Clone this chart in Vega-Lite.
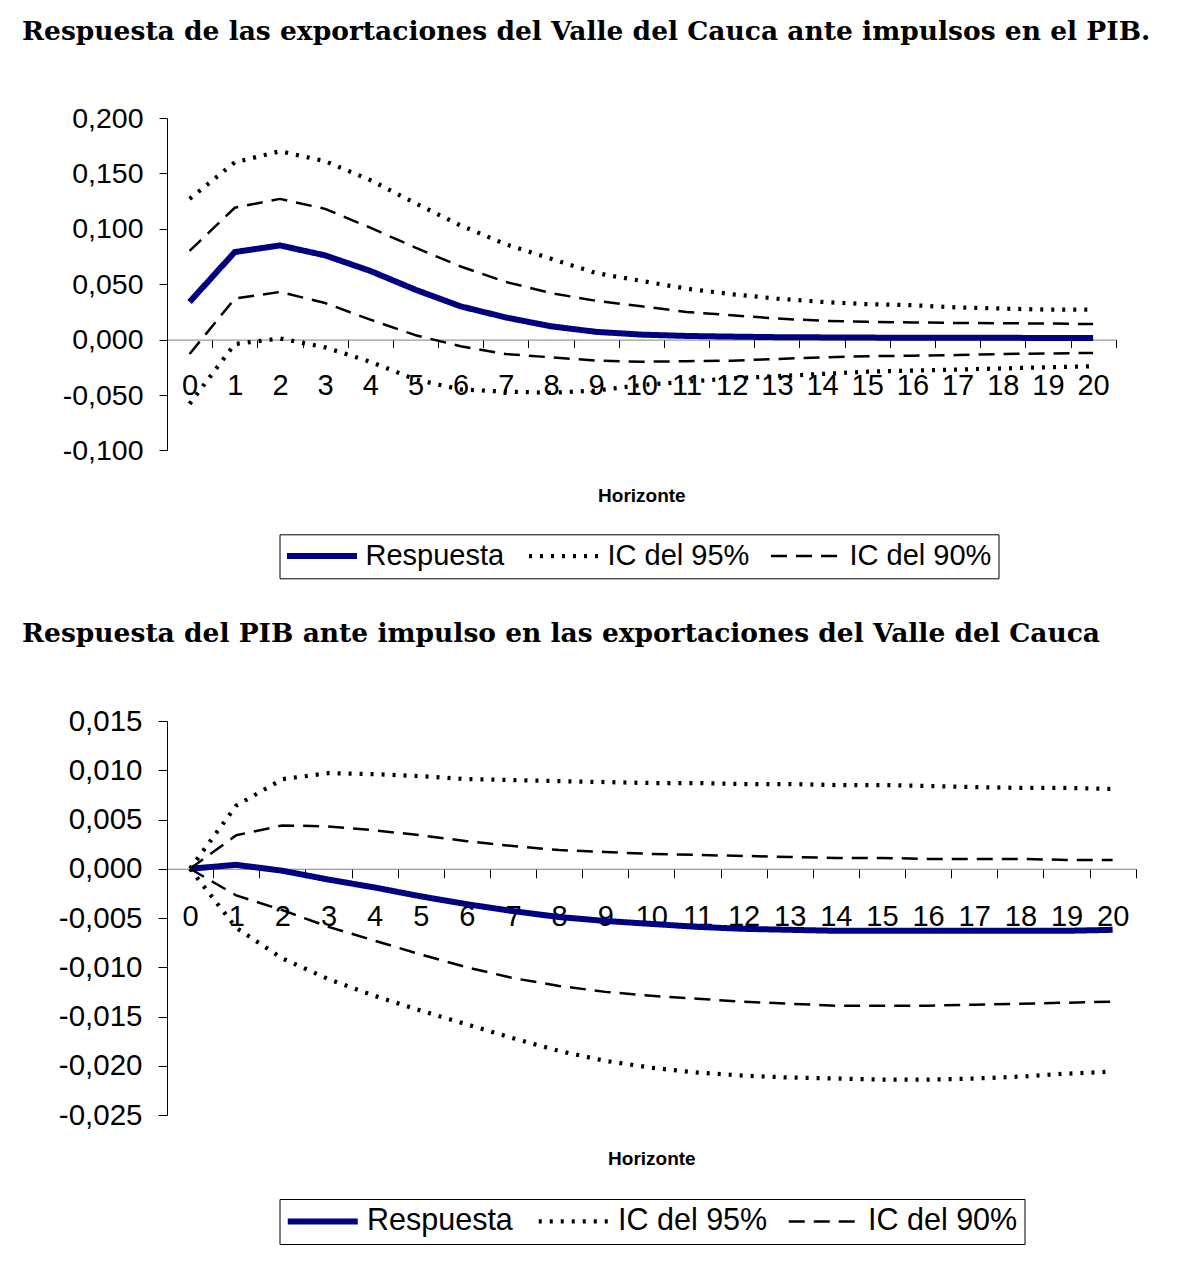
{
  "$schema": "https://vega.github.io/schema/vega-lite/v6.json",
  "background": "white",
  "padding": {"left": 22, "top": 18, "right": 5, "bottom": 5},
  "spacing": 41,
  "config": {
    "view": {"stroke": null},
    "font": "Liberation Sans",
    "title": {"font": "DejaVu Serif", "fontWeight": "bold", "fontSize": 26.5, "anchor": "start", "color": "black", "frame": "group"},
    "axis": {"grid": false, "labelFont": "Liberation Sans", "labelColor": "black", "titleFont": "Liberation Sans", "titleColor": "black", "domainColor": "#000000", "tickColor": "#000000", "domainWidth": 1, "tickWidth": 1},
    "legend": {"orient": "none", "direction": "horizontal", "strokeColor": "black", "padding": 7, "fillColor": "white", "symbolType": "M-5,0H5", "symbolSize": 196, "symbolOffset": 21, "labelFont": "Liberation Sans", "labelColor": "black", "labelOffset": 29, "columnPadding": 16, "labelLimit": 400}
  },
  "resolve": {"scale": {"color": "independent", "strokeDash": "independent", "strokeWidth": "independent"}, "legend": {"color": "independent", "strokeDash": "independent", "strokeWidth": "independent"}},
  "datasets": {
    "a": [
      {"h":0,"s":"Respuesta","b":"c","v":0.034},{"h":1,"s":"Respuesta","b":"c","v":0.079},{"h":2,"s":"Respuesta","b":"c","v":0.085},{"h":3,"s":"Respuesta","b":"c","v":0.076},{"h":4,"s":"Respuesta","b":"c","v":0.062},{"h":5,"s":"Respuesta","b":"c","v":0.045},{"h":6,"s":"Respuesta","b":"c","v":0.030},{"h":7,"s":"Respuesta","b":"c","v":0.020},{"h":8,"s":"Respuesta","b":"c","v":0.012},{"h":9,"s":"Respuesta","b":"c","v":0.007},{"h":10,"s":"Respuesta","b":"c","v":0.0045},{"h":11,"s":"Respuesta","b":"c","v":0.0033},{"h":12,"s":"Respuesta","b":"c","v":0.0027},{"h":13,"s":"Respuesta","b":"c","v":0.0022},{"h":14,"s":"Respuesta","b":"c","v":0.002},{"h":15,"s":"Respuesta","b":"c","v":0.0018},{"h":16,"s":"Respuesta","b":"c","v":0.0017},{"h":17,"s":"Respuesta","b":"c","v":0.0016},{"h":18,"s":"Respuesta","b":"c","v":0.0016},{"h":19,"s":"Respuesta","b":"c","v":0.0015},{"h":20,"s":"Respuesta","b":"c","v":0.0015},
      {"h":0,"s":"IC del 95%","b":"sup","v":0.127},{"h":1,"s":"IC del 95%","b":"sup","v":0.160},{"h":2,"s":"IC del 95%","b":"sup","v":0.170},{"h":3,"s":"IC del 95%","b":"sup","v":0.161},{"h":4,"s":"IC del 95%","b":"sup","v":0.144},{"h":5,"s":"IC del 95%","b":"sup","v":0.123},{"h":6,"s":"IC del 95%","b":"sup","v":0.103},{"h":7,"s":"IC del 95%","b":"sup","v":0.086},{"h":8,"s":"IC del 95%","b":"sup","v":0.073},{"h":9,"s":"IC del 95%","b":"sup","v":0.060},{"h":10,"s":"IC del 95%","b":"sup","v":0.053},{"h":11,"s":"IC del 95%","b":"sup","v":0.046},{"h":12,"s":"IC del 95%","b":"sup","v":0.041},{"h":13,"s":"IC del 95%","b":"sup","v":0.037},{"h":14,"s":"IC del 95%","b":"sup","v":0.034},{"h":15,"s":"IC del 95%","b":"sup","v":0.032},{"h":16,"s":"IC del 95%","b":"sup","v":0.031},{"h":17,"s":"IC del 95%","b":"sup","v":0.029},{"h":18,"s":"IC del 95%","b":"sup","v":0.028},{"h":19,"s":"IC del 95%","b":"sup","v":0.027},{"h":20,"s":"IC del 95%","b":"sup","v":0.027},
      {"h":0,"s":"IC del 95%","b":"inf","v":-0.058},{"h":1,"s":"IC del 95%","b":"inf","v":-0.004},{"h":2,"s":"IC del 95%","b":"inf","v":0.001},{"h":3,"s":"IC del 95%","b":"inf","v":-0.007},{"h":4,"s":"IC del 95%","b":"inf","v":-0.020},{"h":5,"s":"IC del 95%","b":"inf","v":-0.036},{"h":6,"s":"IC del 95%","b":"inf","v":-0.045},{"h":7,"s":"IC del 95%","b":"inf","v":-0.047},{"h":8,"s":"IC del 95%","b":"inf","v":-0.048},{"h":9,"s":"IC del 95%","b":"inf","v":-0.046},{"h":10,"s":"IC del 95%","b":"inf","v":-0.041},{"h":11,"s":"IC del 95%","b":"inf","v":-0.038},{"h":12,"s":"IC del 95%","b":"inf","v":-0.035},{"h":13,"s":"IC del 95%","b":"inf","v":-0.033},{"h":14,"s":"IC del 95%","b":"inf","v":-0.031},{"h":15,"s":"IC del 95%","b":"inf","v":-0.029},{"h":16,"s":"IC del 95%","b":"inf","v":-0.028},{"h":17,"s":"IC del 95%","b":"inf","v":-0.027},{"h":18,"s":"IC del 95%","b":"inf","v":-0.026},{"h":19,"s":"IC del 95%","b":"inf","v":-0.025},{"h":20,"s":"IC del 95%","b":"inf","v":-0.024},
      {"h":0,"s":"IC del 90%","b":"sup","v":0.080},{"h":1,"s":"IC del 90%","b":"sup","v":0.119},{"h":2,"s":"IC del 90%","b":"sup","v":0.127},{"h":3,"s":"IC del 90%","b":"sup","v":0.118},{"h":4,"s":"IC del 90%","b":"sup","v":0.101},{"h":5,"s":"IC del 90%","b":"sup","v":0.083},{"h":6,"s":"IC del 90%","b":"sup","v":0.066},{"h":7,"s":"IC del 90%","b":"sup","v":0.052},{"h":8,"s":"IC del 90%","b":"sup","v":0.042},{"h":9,"s":"IC del 90%","b":"sup","v":0.035},{"h":10,"s":"IC del 90%","b":"sup","v":0.030},{"h":11,"s":"IC del 90%","b":"sup","v":0.025},{"h":12,"s":"IC del 90%","b":"sup","v":0.022},{"h":13,"s":"IC del 90%","b":"sup","v":0.019},{"h":14,"s":"IC del 90%","b":"sup","v":0.017},{"h":15,"s":"IC del 90%","b":"sup","v":0.016},{"h":16,"s":"IC del 90%","b":"sup","v":0.0155},{"h":17,"s":"IC del 90%","b":"sup","v":0.015},{"h":18,"s":"IC del 90%","b":"sup","v":0.0148},{"h":19,"s":"IC del 90%","b":"sup","v":0.0145},{"h":20,"s":"IC del 90%","b":"sup","v":0.014},
      {"h":0,"s":"IC del 90%","b":"inf","v":-0.013},{"h":1,"s":"IC del 90%","b":"inf","v":0.037},{"h":2,"s":"IC del 90%","b":"inf","v":0.043},{"h":3,"s":"IC del 90%","b":"inf","v":0.033},{"h":4,"s":"IC del 90%","b":"inf","v":0.018},{"h":5,"s":"IC del 90%","b":"inf","v":0.004},{"h":6,"s":"IC del 90%","b":"inf","v":-0.006},{"h":7,"s":"IC del 90%","b":"inf","v":-0.013},{"h":8,"s":"IC del 90%","b":"inf","v":-0.016},{"h":9,"s":"IC del 90%","b":"inf","v":-0.019},{"h":10,"s":"IC del 90%","b":"inf","v":-0.020},{"h":11,"s":"IC del 90%","b":"inf","v":-0.0195},{"h":12,"s":"IC del 90%","b":"inf","v":-0.019},{"h":13,"s":"IC del 90%","b":"inf","v":-0.0175},{"h":14,"s":"IC del 90%","b":"inf","v":-0.016},{"h":15,"s":"IC del 90%","b":"inf","v":-0.015},{"h":16,"s":"IC del 90%","b":"inf","v":-0.0145},{"h":17,"s":"IC del 90%","b":"inf","v":-0.014},{"h":18,"s":"IC del 90%","b":"inf","v":-0.013},{"h":19,"s":"IC del 90%","b":"inf","v":-0.0125},{"h":20,"s":"IC del 90%","b":"inf","v":-0.012}
    ],
    "b": [
      {"h":0,"s":"Respuesta","b":"c","v":0},{"h":1,"s":"Respuesta","b":"c","v":0.0004},{"h":2,"s":"Respuesta","b":"c","v":-0.0002},{"h":3,"s":"Respuesta","b":"c","v":-0.0011},{"h":4,"s":"Respuesta","b":"c","v":-0.0019},{"h":5,"s":"Respuesta","b":"c","v":-0.0028},{"h":6,"s":"Respuesta","b":"c","v":-0.0036},{"h":7,"s":"Respuesta","b":"c","v":-0.0043},{"h":8,"s":"Respuesta","b":"c","v":-0.0049},{"h":9,"s":"Respuesta","b":"c","v":-0.0053},{"h":10,"s":"Respuesta","b":"c","v":-0.0056},{"h":11,"s":"Respuesta","b":"c","v":-0.0059},{"h":12,"s":"Respuesta","b":"c","v":-0.0061},{"h":13,"s":"Respuesta","b":"c","v":-0.0062},{"h":14,"s":"Respuesta","b":"c","v":-0.0063},{"h":15,"s":"Respuesta","b":"c","v":-0.0063},{"h":16,"s":"Respuesta","b":"c","v":-0.0063},{"h":17,"s":"Respuesta","b":"c","v":-0.0063},{"h":18,"s":"Respuesta","b":"c","v":-0.0063},{"h":19,"s":"Respuesta","b":"c","v":-0.0063},{"h":20,"s":"Respuesta","b":"c","v":-0.0062},
      {"h":0,"s":"IC del 95%","b":"sup","v":0},{"h":1,"s":"IC del 95%","b":"sup","v":0.0064},{"h":2,"s":"IC del 95%","b":"sup","v":0.0091},{"h":3,"s":"IC del 95%","b":"sup","v":0.0097},{"h":4,"s":"IC del 95%","b":"sup","v":0.0096},{"h":5,"s":"IC del 95%","b":"sup","v":0.0094},{"h":6,"s":"IC del 95%","b":"sup","v":0.0091},{"h":7,"s":"IC del 95%","b":"sup","v":0.0090},{"h":8,"s":"IC del 95%","b":"sup","v":0.0089},{"h":9,"s":"IC del 95%","b":"sup","v":0.0088},{"h":10,"s":"IC del 95%","b":"sup","v":0.0087},{"h":11,"s":"IC del 95%","b":"sup","v":0.0087},{"h":12,"s":"IC del 95%","b":"sup","v":0.0086},{"h":13,"s":"IC del 95%","b":"sup","v":0.0086},{"h":14,"s":"IC del 95%","b":"sup","v":0.0085},{"h":15,"s":"IC del 95%","b":"sup","v":0.0085},{"h":16,"s":"IC del 95%","b":"sup","v":0.0084},{"h":17,"s":"IC del 95%","b":"sup","v":0.0083},{"h":18,"s":"IC del 95%","b":"sup","v":0.0082},{"h":19,"s":"IC del 95%","b":"sup","v":0.0082},{"h":20,"s":"IC del 95%","b":"sup","v":0.0081},
      {"h":0,"s":"IC del 95%","b":"inf","v":0},{"h":1,"s":"IC del 95%","b":"inf","v":-0.0060},{"h":2,"s":"IC del 95%","b":"inf","v":-0.0091},{"h":3,"s":"IC del 95%","b":"inf","v":-0.0112},{"h":4,"s":"IC del 95%","b":"inf","v":-0.0129},{"h":5,"s":"IC del 95%","b":"inf","v":-0.0144},{"h":6,"s":"IC del 95%","b":"inf","v":-0.0158},{"h":7,"s":"IC del 95%","b":"inf","v":-0.0172},{"h":8,"s":"IC del 95%","b":"inf","v":-0.0185},{"h":9,"s":"IC del 95%","b":"inf","v":-0.0195},{"h":10,"s":"IC del 95%","b":"inf","v":-0.0202},{"h":11,"s":"IC del 95%","b":"inf","v":-0.0207},{"h":12,"s":"IC del 95%","b":"inf","v":-0.0210},{"h":13,"s":"IC del 95%","b":"inf","v":-0.0212},{"h":14,"s":"IC del 95%","b":"inf","v":-0.0213},{"h":15,"s":"IC del 95%","b":"inf","v":-0.0214},{"h":16,"s":"IC del 95%","b":"inf","v":-0.0214},{"h":17,"s":"IC del 95%","b":"inf","v":-0.0213},{"h":18,"s":"IC del 95%","b":"inf","v":-0.0211},{"h":19,"s":"IC del 95%","b":"inf","v":-0.0208},{"h":20,"s":"IC del 95%","b":"inf","v":-0.0206},
      {"h":0,"s":"IC del 90%","b":"sup","v":0},{"h":1,"s":"IC del 90%","b":"sup","v":0.0034},{"h":2,"s":"IC del 90%","b":"sup","v":0.0044},{"h":3,"s":"IC del 90%","b":"sup","v":0.0043},{"h":4,"s":"IC del 90%","b":"sup","v":0.0039},{"h":5,"s":"IC del 90%","b":"sup","v":0.0034},{"h":6,"s":"IC del 90%","b":"sup","v":0.0028},{"h":7,"s":"IC del 90%","b":"sup","v":0.0023},{"h":8,"s":"IC del 90%","b":"sup","v":0.0019},{"h":9,"s":"IC del 90%","b":"sup","v":0.0017},{"h":10,"s":"IC del 90%","b":"sup","v":0.0015},{"h":11,"s":"IC del 90%","b":"sup","v":0.0014},{"h":12,"s":"IC del 90%","b":"sup","v":0.0013},{"h":13,"s":"IC del 90%","b":"sup","v":0.0012},{"h":14,"s":"IC del 90%","b":"sup","v":0.0011},{"h":15,"s":"IC del 90%","b":"sup","v":0.0011},{"h":16,"s":"IC del 90%","b":"sup","v":0.0010},{"h":17,"s":"IC del 90%","b":"sup","v":0.0010},{"h":18,"s":"IC del 90%","b":"sup","v":0.0010},{"h":19,"s":"IC del 90%","b":"sup","v":0.0009},{"h":20,"s":"IC del 90%","b":"sup","v":0.0009},
      {"h":0,"s":"IC del 90%","b":"inf","v":0},{"h":1,"s":"IC del 90%","b":"inf","v":-0.0027},{"h":2,"s":"IC del 90%","b":"inf","v":-0.0042},{"h":3,"s":"IC del 90%","b":"inf","v":-0.0059},{"h":4,"s":"IC del 90%","b":"inf","v":-0.0073},{"h":5,"s":"IC del 90%","b":"inf","v":-0.0087},{"h":6,"s":"IC del 90%","b":"inf","v":-0.0100},{"h":7,"s":"IC del 90%","b":"inf","v":-0.0111},{"h":8,"s":"IC del 90%","b":"inf","v":-0.0119},{"h":9,"s":"IC del 90%","b":"inf","v":-0.0125},{"h":10,"s":"IC del 90%","b":"inf","v":-0.0129},{"h":11,"s":"IC del 90%","b":"inf","v":-0.0132},{"h":12,"s":"IC del 90%","b":"inf","v":-0.0135},{"h":13,"s":"IC del 90%","b":"inf","v":-0.0137},{"h":14,"s":"IC del 90%","b":"inf","v":-0.0139},{"h":15,"s":"IC del 90%","b":"inf","v":-0.0139},{"h":16,"s":"IC del 90%","b":"inf","v":-0.0139},{"h":17,"s":"IC del 90%","b":"inf","v":-0.0138},{"h":18,"s":"IC del 90%","b":"inf","v":-0.0137},{"h":19,"s":"IC del 90%","b":"inf","v":-0.0136},{"h":20,"s":"IC del 90%","b":"inf","v":-0.0135}
    ]
  },
  "vconcat": [
    {
      "width": 948.7,
      "height": 332.4,
      "title": {"text": "Respuesta de las exportaciones del Valle del Cauca ante impulsos en el PIB.", "dx": -145, "offset": 59},
      "data": {"name": "a"},
      "mark": {"type": "line", "strokeCap": "butt", "strokeJoin": "round"},
      "encoding": {
        "x": {"field": "h", "type": "quantitative",
          "scale": {"domain": [-0.5, 20.5], "nice": false, "zero": false},
          "axis": {"title": "Horizonte", "values": [-0.5,0.5,1.5,2.5,3.5,4.5,5.5,6.5,7.5,8.5,9.5,10.5,11.5,12.5,13.5,14.5,15.5,16.5,17.5,18.5,19.5,20.5],
            "labelExpr": "datum.value < 20 ? format(datum.value + 0.5, 'd') : ''", "labelOffset": 22.59, "labelOverlap": false, "labelFlush": false,
            "offset": -110.8, "tickSize": 8, "labelPadding": 24, "labelFontSize": 29, "titleFontSize": 19, "titleFontWeight": "bold", "titlePadding": 86, "domainColor": "#808080"}},
        "y": {"field": "v", "type": "quantitative",
          "scale": {"domain": [-0.1, 0.2], "nice": false, "zero": false},
          "axis": {"title": null, "values": [-0.1,-0.05,0,0.05,0.1,0.15,0.2], "labelExpr": "(datum.value < 0 ? '-' : '') + replace(format(abs(datum.value), '.3f'), '.', ',')", "tickSize": 8, "labelPadding": 16, "labelFontSize": 28.5, "labelOverlap": false, "labelFlush": false}},
        "color": {"field": "s", "type": "nominal", "scale": {"domain": ["Respuesta","IC del 95%","IC del 90%"], "range": ["#000080","#000000","#000000"]}, "legend": {"title": null, "labelFontSize": 29, "legendX": 112.5, "legendY": 416.3}},
        "strokeDash": {"field": "s", "type": "nominal", "scale": {"domain": ["Respuesta","IC del 95%","IC del 90%"], "range": [[1,0],[3,8],[16,9]]}, "legend": {"title": null, "labelFontSize": 29, "legendX": 112.5, "legendY": 416.3}},
        "strokeWidth": {"field": "s", "type": "nominal", "scale": {"domain": ["Respuesta","IC del 95%","IC del 90%"], "range": [6,2.5,2.5]}, "legend": {"title": null, "labelFontSize": 29, "legendX": 112.5, "legendY": 416.3}},
        "detail": {"field": "b", "type": "nominal"}
      }
    },
    {
      "width": 968.7,
      "height": 394,
      "title": {"text": "Respuesta del PIB ante impulso en las exportaciones del Valle del Cauca", "dx": -145, "offset": 59},
      "data": {"name": "b"},
      "mark": {"type": "line", "strokeCap": "butt", "strokeJoin": "round"},
      "encoding": {
        "x": {"field": "h", "type": "quantitative",
          "scale": {"domain": [-0.5, 20.5], "nice": false, "zero": false},
          "axis": {"title": "Horizonte", "values": [-0.5,0.5,1.5,2.5,3.5,4.5,5.5,6.5,7.5,8.5,9.5,10.5,11.5,12.5,13.5,14.5,15.5,16.5,17.5,18.5,19.5,20.5],
            "labelExpr": "datum.value < 20 ? format(datum.value + 0.5, 'd') : ''", "labelOffset": 23.06, "labelOverlap": false, "labelFlush": false,
            "offset": -246.25, "tickSize": 9, "labelPadding": 25, "labelFontSize": 29, "titleFontSize": 19, "titleFontWeight": "bold", "titlePadding": 218, "domainColor": "#808080"}},
        "y": {"field": "v", "type": "quantitative",
          "scale": {"domain": [-0.025, 0.015], "nice": false, "zero": false},
          "axis": {"title": null, "values": [-0.025,-0.02,-0.015,-0.01,-0.005,0,0.005,0.01,0.015], "labelExpr": "(datum.value < 0 ? '-' : '') + replace(format(abs(datum.value), '.3f'), '.', ',')", "tickSize": 9, "labelPadding": 16, "labelFontSize": 29.5, "labelOverlap": false, "labelFlush": false}},
        "color": {"field": "s", "type": "nominal", "scale": {"domain": ["Respuesta","IC del 95%","IC del 90%"], "range": ["#000080","#000000","#000000"]}, "legend": {"title": null, "labelFontSize": 30.5, "legendX": 112.5, "legendY": 478}},
        "strokeDash": {"field": "s", "type": "nominal", "scale": {"domain": ["Respuesta","IC del 95%","IC del 90%"], "range": [[1,0],[3,8],[16,9]]}, "legend": {"title": null, "labelFontSize": 30.5, "legendX": 112.5, "legendY": 478}},
        "strokeWidth": {"field": "s", "type": "nominal", "scale": {"domain": ["Respuesta","IC del 95%","IC del 90%"], "range": [6,2.5,2.5]}, "legend": {"title": null, "labelFontSize": 30.5, "legendX": 112.5, "legendY": 478}},
        "detail": {"field": "b", "type": "nominal"}
      }
    }
  ]
}
